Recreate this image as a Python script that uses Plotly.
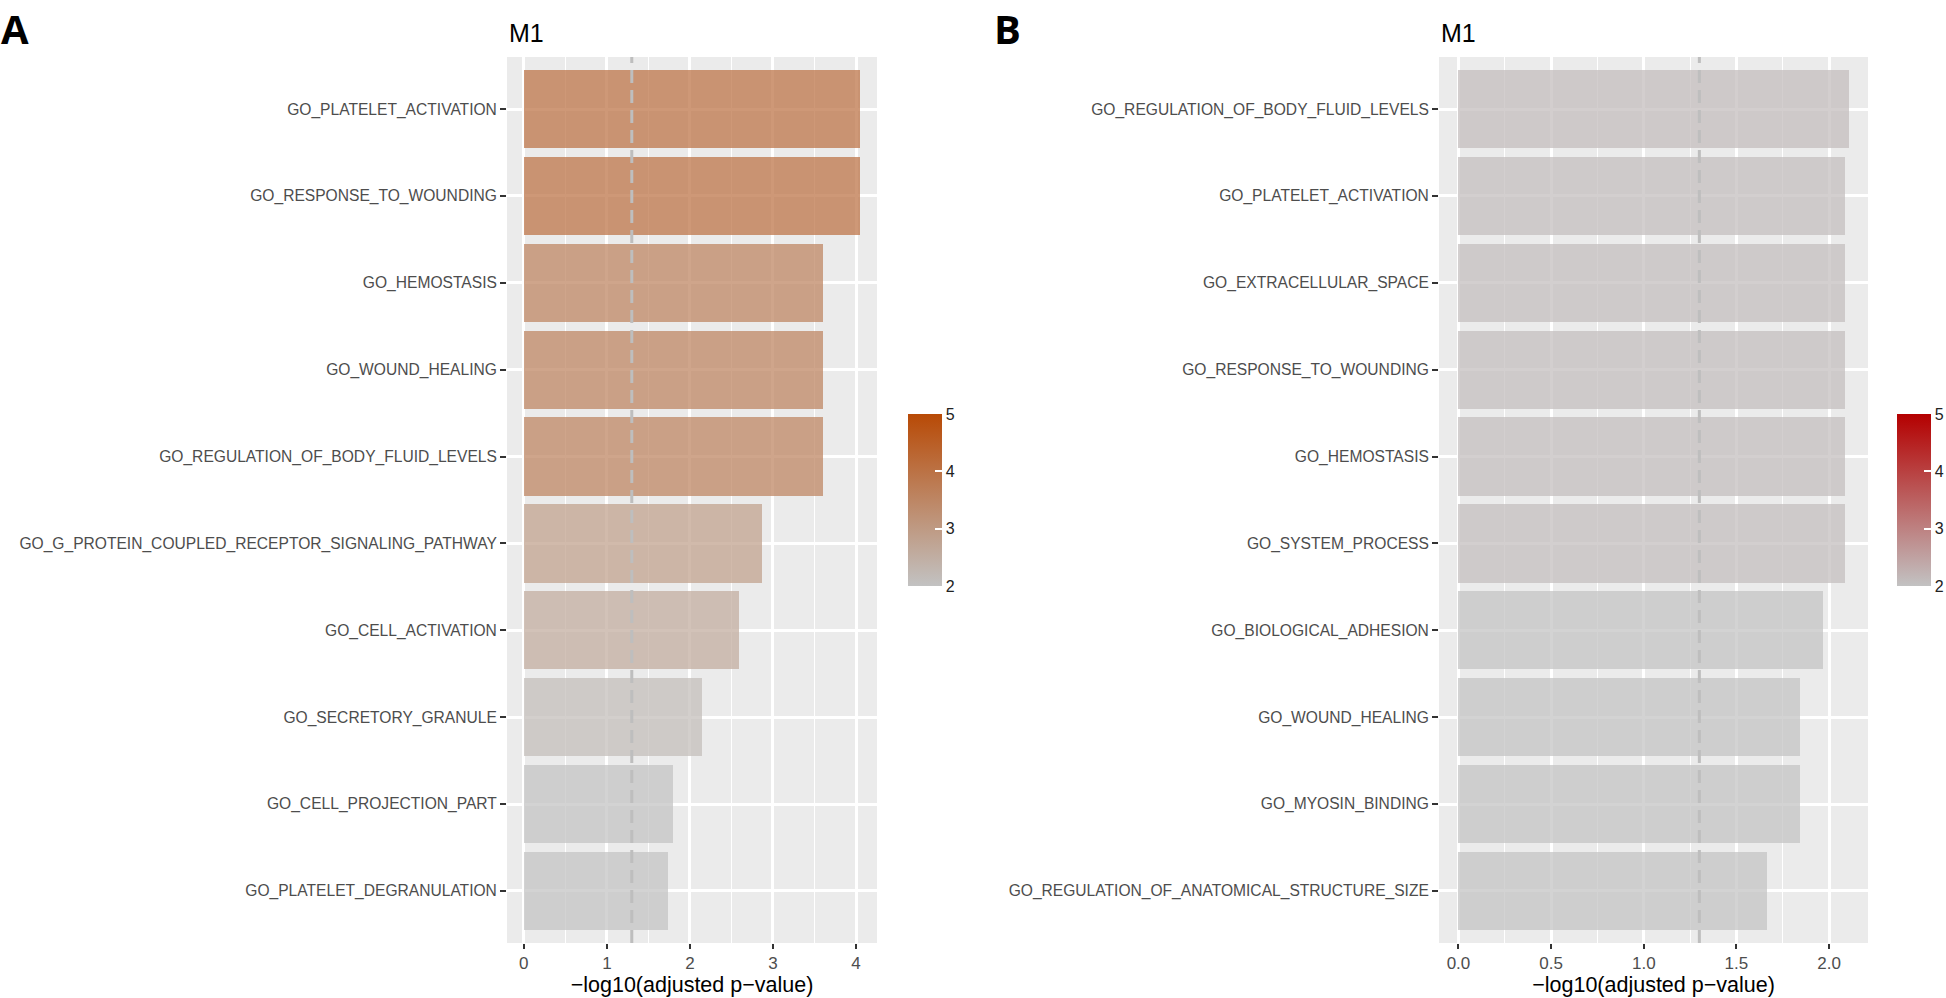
import plotly.graph_objects as go

W, H = 1946, 998

# ── Data ───────────────────────────────────────────────────
terms_a = [
    "GO_PLATELET_ACTIVATION",
    "GO_RESPONSE_TO_WOUNDING",
    "GO_HEMOSTASIS",
    "GO_WOUND_HEALING",
    "GO_REGULATION_OF_BODY_FLUID_LEVELS",
    "GO_G_PROTEIN_COUPLED_RECEPTOR_SIGNALING_PATHWAY",
    "GO_CELL_ACTIVATION",
    "GO_SECRETORY_GRANULE",
    "GO_CELL_PROJECTION_PART",
    "GO_PLATELET_DEGRANULATION",
]
values_a = [4.05, 4.05, 3.60, 3.60, 3.60, 2.87, 2.59, 2.14, 1.80, 1.74]

terms_b = [
    "GO_REGULATION_OF_BODY_FLUID_LEVELS",
    "GO_PLATELET_ACTIVATION",
    "GO_EXTRACELLULAR_SPACE",
    "GO_RESPONSE_TO_WOUNDING",
    "GO_HEMOSTASIS",
    "GO_SYSTEM_PROCESS",
    "GO_BIOLOGICAL_ADHESION",
    "GO_WOUND_HEALING",
    "GO_MYOSIN_BINDING",
    "GO_REGULATION_OF_ANATOMICAL_STRUCTURE_SIZE",
]
values_b = [2.105, 2.087, 2.087, 2.087, 2.087, 2.085, 1.965, 1.843, 1.843, 1.663]

cutoff = 1.3  # -log10(0.05)
color_ticks = [2, 3, 4, 5]

FONT = "Liberation Sans"
TICK_COL = "#4D4D4D"


def px_x(x):
    return x / W


def px_y(y):
    return 1 - y / H


# ── Figure ─────────────────────────────────────────────────
fig = go.Figure()

panels = [
    dict(terms=terms_a, vals=values_a, xa="x", ya="y", xdom=(507, 877),
         hi="#B84A06", cbx=908, xr=[-0.2025, 4.2525], dtick=1, fmt="d", letter="A", lx=0),
    dict(terms=terms_b, vals=values_b, xa="x2", ya="y2", xdom=(1439, 1868),
         hi="#B40000", cbx=1897, xr=[-0.105, 2.21], dtick=0.5, fmt=".1f", letter="B", lx=993),
]

for i, p in enumerate(panels):
    fig.add_trace(go.Bar(
        x=p["vals"], y=p["terms"], orientation="h", width=0.9,
        xaxis=p["xa"], yaxis=p["ya"],
        marker=dict(
            color=p["vals"], cmin=2, cmax=5,
            colorscale=[[0, "#C2C2C2"], [1, p["hi"]]],
            opacity=0.72, line=dict(width=0),
            showscale=True,
            colorbar=dict(
                x=px_x(p["cbx"]), xanchor="left", xref="paper", xpad=0,
                y=0.499, yanchor="middle",
                thickness=34, thicknessmode="pixels",
                len=192, lenmode="pixels",
                outlinewidth=0, tickvals=color_ticks,
                ticks="inside", ticklen=7, tickcolor="white", tickwidth=1.5,
                tickfont=dict(family=FONT, size=16, color="#222222"),
            ),
        ),
        showlegend=False, hoverinfo="x+y",
    ))

    sfx = "" if i == 0 else "2"
    fig.update_layout({
        f"xaxis{sfx}": dict(
            domain=[px_x(p["xdom"][0]), px_x(p["xdom"][1])], anchor=p["ya"],
            range=p["xr"], dtick=p["dtick"], tick0=0, tickformat=p["fmt"],
            showgrid=True, gridcolor="white", gridwidth=2.5, zeroline=False,
            minor=dict(dtick=p["dtick"] / 2, tick0=p["dtick"] / 2, showgrid=True,
                       gridcolor="white", gridwidth=1.2),
            ticks="outside", ticklen=5, tickwidth=2, tickcolor="#333333",
            tickfont=dict(family=FONT, size=17, color=TICK_COL),
            title=dict(text="\u2212log10(adjusted p\u2212value)", standoff=4,
                       font=dict(family=FONT, size=21.5, color="black")),
            showline=False, fixedrange=True, automargin=False,
        ),
        f"yaxis{sfx}": dict(
            domain=[px_y(943), px_y(57)], anchor=p["xa"],
            type="category", categoryorder="array", categoryarray=p["terms"],
            range=[9.6, -0.6],
            showgrid=True, gridcolor="white", gridwidth=2.5, zeroline=False,
            ticks="outside", ticklen=6, tickwidth=2, tickcolor="#333333",
            tickfont=dict(family=FONT, size=15.6, color=TICK_COL),
            showline=False, fixedrange=True, automargin=False,
        ),
    })

    # significance cutoff line
    fig.add_shape(
        type="line", xref=p["xa"], yref=f"{p['ya']} domain",
        x0=cutoff, x1=cutoff, y0=0, y1=1, layer="above",
        line=dict(color="#BEBEBE", width=3, dash="13px,7px"),
    )

    # panel title and letter
    fig.add_annotation(
        text="M1", x=px_x(p["xdom"][0]), y=px_y(33), xref="paper", yref="paper",
        xanchor="left", yanchor="middle", showarrow=False,
        font=dict(family=FONT, size=25, color="black"),
    )
    fig.add_annotation(
        text=f"<b>{p['letter']}</b>", x=px_x(p["lx"]), y=1, xref="paper", yref="paper",
        xanchor="left", yanchor="top", showarrow=False, borderpad=0,
        font=dict(family="Open Sans", size=40, color="black"),
    )

fig.update_layout(
    width=W, height=H,
    margin=dict(l=0, r=0, t=0, b=0, autoexpand=False),
    paper_bgcolor="white",
    plot_bgcolor="#EBEBEB",
    bargap=0,
)

fig.write_html(
    "out.html",
    config={"displayModeBar": False},
    post_script="document.body.style.margin='0px';",
)
